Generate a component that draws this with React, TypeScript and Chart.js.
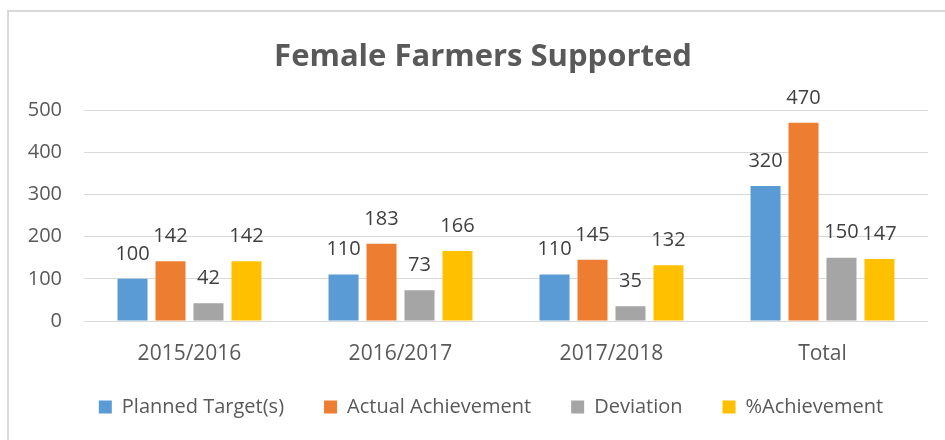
import React, { useEffect, useRef } from "react";
import { Chart, registerables } from "chart.js";

Chart.register(...registerables);

const categories = ["2015/2016", "2016/2017", "2017/2018", "Total"];
const plannedTarget = [100, 110, 110, 320];
const actualAchievement = [142, 183, 145, 470];
const deviation = [42, 73, 35, 150];
const pctAchievement = [142, 166, 132, 147];
const yTicks = [0, 100, 200, 300, 400, 500];

const FONT = "'Open Sans', sans-serif";
const TEXT = "#595959";

const dataLabelPlugin = {
  id: "dataLabels",
  afterDatasetsDraw(chart: any) {
    const ctx = chart.ctx;
    ctx.save();
    ctx.font = `20px ${FONT}`;
    ctx.fillStyle = "#404040";
    ctx.textAlign = "center";
    ctx.textBaseline = "middle";
    chart.data.datasets.forEach((ds: any, i: number) => {
      const meta = chart.getDatasetMeta(i);
      meta.data.forEach((el: any, j: number) => {
        ctx.fillText(String(ds.data[j]), el.x, el.y - 25);
      });
    });
    ctx.restore();
  },
};

// nudge title and legend to match the reference's centring
const shiftPlugin = {
  id: "shiftBoxes",
  afterLayout(chart: any) {
    const t = chart.titleBlock;
    if (t) {
      t.left += 19;
      t.right += 19;
    }
    const l = chart.legend;
    if (l) {
      l.left += 27;
      l.right += 27;
      l.top -= 13;
      l.bottom -= 13;
    }
  },
};

export default function App() {
  const ref = useRef<HTMLCanvasElement | null>(null);
  useEffect(() => {
    if (!ref.current) return;
    const chart = new Chart(ref.current, {
      type: "bar",
      data: {
        labels: categories,
        datasets: [
          { label: "Planned Target(s)", data: plannedTarget, backgroundColor: "#5b9bd5" },
          { label: "Actual Achievement", data: actualAchievement, backgroundColor: "#ed7d31" },
          { label: "Deviation", data: deviation, backgroundColor: "#a5a5a5" },
          { label: "%Achievement", data: pctAchievement, backgroundColor: "#ffc000" },
        ],
      },
      options: {
        animation: false,
        responsive: false,
        maintainAspectRatio: false,
        datasets: { bar: { categoryPercentage: 0.72, barPercentage: 0.79 } } as any,
        layout: { padding: { left: 0, right: 17, top: 0, bottom: 0 } },
        plugins: {
          title: {
            display: true,
            text: "Female Farmers Supported",
            color: TEXT,
            font: { family: FONT, size: 31, weight: "bold" },
            padding: { top: 39, bottom: 34 },
          },
          legend: {
            position: "bottom",
            labels: {
              color: TEXT,
              font: { family: FONT, size: 20 },
              boxWidth: 13,
              boxHeight: 13,
              padding: 40,
            },
          },
          tooltip: { enabled: false },
        },
        scales: {
          x: {
            grid: { display: false, drawTicks: false },
            border: { display: false },
            ticks: { color: TEXT, font: { family: FONT, size: 21 }, padding: 20 },
            afterFit(scale: any) {
              scale.height = 49;
            },
          },
          y: {
            min: 0,
            max: 500,
            afterBuildTicks(scale: any) {
              scale.ticks = yTicks.map((v) => ({ value: v }));
            },
            grid: { color: "#d9d9d9", lineWidth: 1, drawTicks: false },
            border: { display: false },
            ticks: { color: TEXT, font: { family: FONT, size: 20 }, padding: 22 },
            afterFit(scale: any) {
              scale.width = 84;
            },
          },
        },
      },
      plugins: [dataLabelPlugin, shiftPlugin],
    });
    return () => chart.destroy();
  }, []);

  return (
    <div style={{ position: "fixed", left: 0, top: 0, width: 945, height: 440, background: "#fff", overflow: "hidden" }}>
      <div
        style={{
          position: "absolute",
          left: 7,
          top: 10,
          width: 1000,
          height: 500,
          borderLeft: "2px solid #d9d9d9",
          borderTop: "2px solid #d9d9d9",
        }}
      />
      <canvas ref={ref} width={945} height={440} style={{ position: "absolute", left: 0, top: 0 }} />
    </div>
  );
}
